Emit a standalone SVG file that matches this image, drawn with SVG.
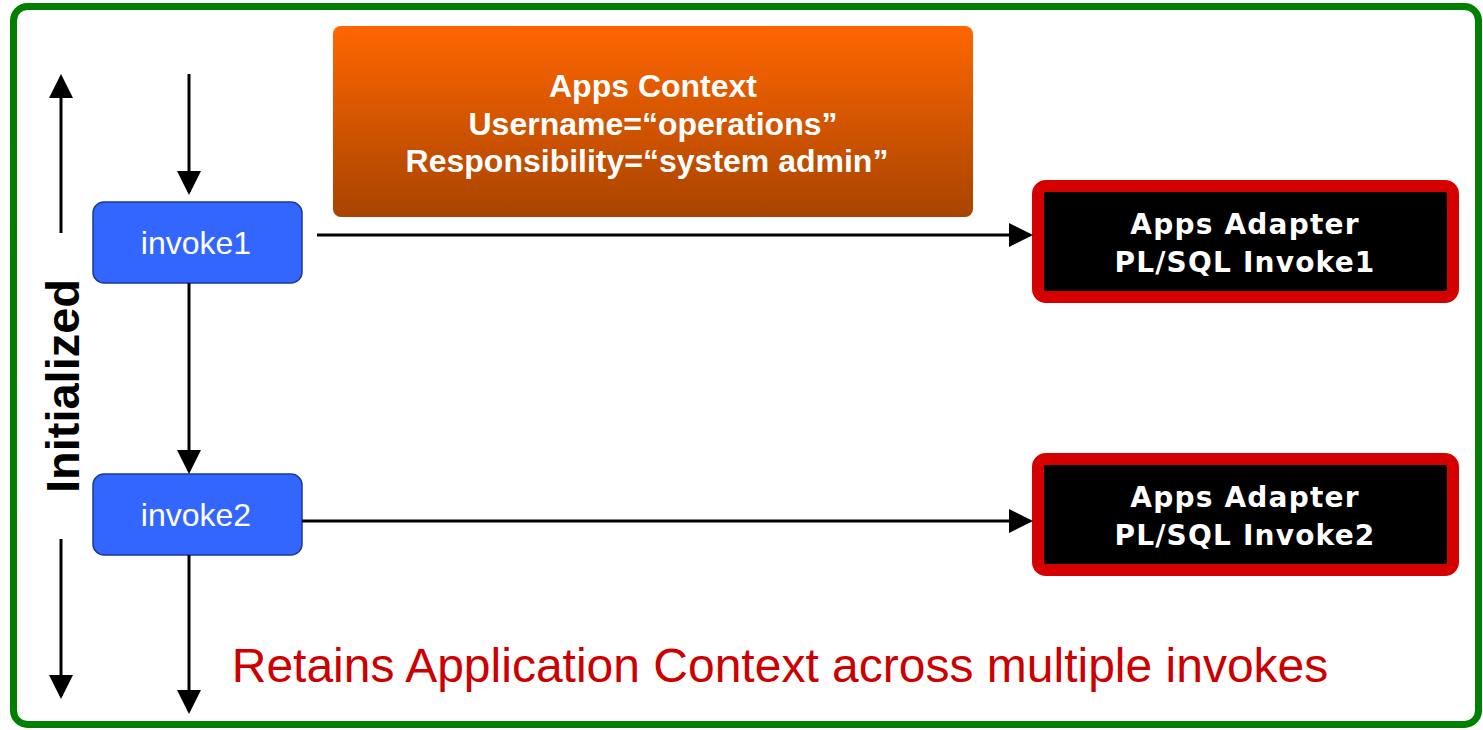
<svg xmlns="http://www.w3.org/2000/svg" width="1483" height="730" viewBox="0 0 1483 730">
<style>
.inv rect{fill:#3366ff;stroke:#1a3a9a;stroke-width:1.5}
.inv text{fill:#fff;font-family:"Liberation Sans",Arial,sans-serif;font-size:32px;text-anchor:middle}
.ad rect{fill:#000;stroke:#d50000;stroke-width:12}
.ad text{fill:#fff;font-family:"DejaVu Sans",Verdana,sans-serif;font-weight:bold;font-size:28px;letter-spacing:1.2px;text-anchor:middle}
.ctx text{fill:#fff;font-family:"Liberation Sans",Arial,sans-serif;font-weight:bold;font-size:32px;text-anchor:middle}
.c line{stroke:#000;stroke-width:3;marker-end:url(#ah)}
</style>
<defs>
<marker id="ah" markerWidth="8" markerHeight="8" refX="7" refY="4" orient="auto" markerUnits="strokeWidth"><path d="M0,0 L8,4 L0,8 Z" fill="#000"/></marker>
<linearGradient id="og" x1="0" y1="0" x2="0" y2="1"><stop offset="0" stop-color="#ff6600"/><stop offset="1" stop-color="#a84400"/></linearGradient>
</defs>
<rect x="13.5" y="6.5" width="1465" height="718" rx="14" fill="#fff" stroke="#008000" stroke-width="7"/>
<g id="ctx" class="ctx">
<rect x="333" y="26" width="640" height="191" rx="8" fill="url(#og)"/>
<text x="653" y="97">Apps Context</text>
<text x="653" y="135">Username=“operations”</text>
<text x="647" y="172">Responsibility=“system admin”</text>
</g>
<g id="invoke1" class="inv"><rect x="93" y="202" width="209" height="81" rx="11"/><text x="196" y="254">invoke1</text></g>
<g id="invoke2" class="inv"><rect x="93" y="474" width="209" height="81" rx="11"/><text x="196" y="526">invoke2</text></g>
<g id="adapter1" class="ad"><rect x="1038" y="186" width="415" height="111" rx="8"/><text x="1245" y="234">Apps Adapter</text><text x="1245" y="272">PL/SQL Invoke1</text></g>
<g id="adapter2" class="ad"><rect x="1038" y="459" width="415" height="111" rx="8"/><text x="1245" y="507">Apps Adapter</text><text x="1245" y="545">PL/SQL Invoke2</text></g>
<g id="connectors" class="c">
<line x1="61" y1="233" x2="61" y2="77"/>
<line x1="61" y1="539" x2="61" y2="696"/>
<line x1="189" y1="74" x2="189" y2="192"/>
<line x1="189" y1="283" x2="189" y2="471"/>
<line x1="189" y1="555" x2="189" y2="711"/>
<line x1="317" y1="235" x2="1030" y2="235"/>
<line x1="302" y1="521" x2="1030" y2="521"/>
</g>
<text transform="translate(79,386) rotate(-90)" text-anchor="middle" font-family="Liberation Sans,Arial,sans-serif" font-weight="bold" font-size="47" fill="#000">Initialized</text>
<text x="780" y="682" text-anchor="middle" font-family="Liberation Sans,Arial,sans-serif" font-size="48" fill="#cc0000">Retains Application Context across multiple invokes</text>
</svg>
